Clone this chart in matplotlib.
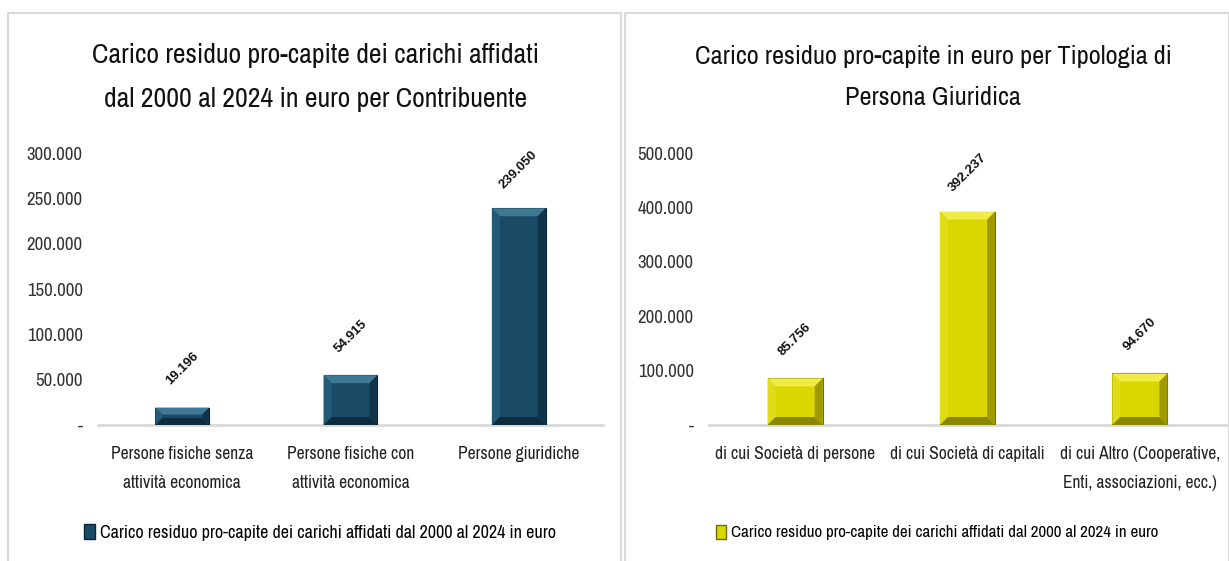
import matplotlib
matplotlib.use("Agg")
import matplotlib.pyplot as plt
from matplotlib.patches import Rectangle, Patch, Polygon
from matplotlib.ticker import FuncFormatter

# dati
cat_contribuente = ["Persone fisiche senza\nattività economica",
                    "Persone fisiche con\nattività economica",
                    "Persone giuridiche"]
val_contribuente = [19196, 54915, 239050]

cat_giuridica = ["di cui Società di persone",
                 "di cui Società di capitali",
                 "di cui Altro (Cooperative,\nEnti, associazioni, ecc.)"]
val_giuridica = [85756, 392237, 94670]

titolo_sx = "Carico residuo pro-capite dei carichi affidati\ndal 2000 al 2024 in euro per Contribuente"
titolo_dx = "Carico residuo pro-capite in euro per Tipologia di\nPersona Giuridica"
serie = "Carico residuo pro-capite dei carichi affidati dal 2000 al 2024 in euro"

FONT = ["Archivo Narrow", "Liberation Sans Narrow", "DejaVu Sans"]
plt.rcParams["font.family"] = FONT

W, H = 1229, 561
fig = plt.figure(figsize=(W / 100, H / 100), dpi=100)

# cornici dei due pannelli
for x0, x1 in [(8, 621), (625, 1229)]:
    fig.patches.append(Rectangle((x0 / W, -0.01), (x1 - x0) / W, (H - 13) / H + 0.01,
                                 transform=fig.transFigure, fill=False,
                                 edgecolor="#d9d9d9", linewidth=1.5))


def it_fmt(v, pos=None):
    if v == 0:
        return "-"
    return f"{v:,.0f}".replace(",", ".")


def smussa(ax, bars, col_top, col_left, col_right, col_bot):
    # effetto "bevel" stile Excel: trapezi sui bordi di ogni barra (in pixel)
    inv = ax.transData.inverted()
    for b in bars:
        (x0, y0), (x1, y1) = ax.transData.transform([(b.get_x(), 0),
                                                     (b.get_x() + b.get_width(), b.get_height())])
        d = min(8, (y1 - y0) / 2.5)
        inner = [(x0 + d, y0 + d), (x1 - d, y0 + d), (x1 - d, y1 - d), (x0 + d, y1 - d)]
        facce = [
            ([(x0, y1), (x1, y1), inner[2], inner[3]], col_top),
            ([(x0, y0), (x0, y1), inner[3], inner[0]], col_left),
            ([(x1, y0), (x1, y1), inner[2], inner[1]], col_right),
            ([(x0, y0), (x1, y0), inner[1], inner[0]], col_bot),
        ]
        for pts, c in facce:
            ax.add_patch(Polygon(inv.transform(pts), closed=True, facecolor=c,
                                 edgecolor="none", zorder=3))


def pannello(rect, cats, vals, ymax, step, colori, titolo, tx, title_fs, leg_x, leg_fs):
    color, edge = colori[0], colori[-1]
    ax = fig.add_axes(rect)
    xs = range(len(cats))
    bars = ax.bar(xs, vals, width=0.32, color=color, edgecolor=edge, linewidth=0.8, zorder=2)
    ax.set_xlim(-0.5, len(cats) - 0.5)
    ax.set_ylim(0, ymax)
    ax.set_yticks(range(0, ymax + 1, step))
    ax.yaxis.set_major_formatter(FuncFormatter(it_fmt))
    ax.set_xticks(list(xs))
    ax.set_xticklabels(cats, fontsize=12.6, linespacing=2.0, color="#222222")
    ax.tick_params(axis="y", length=0, pad=11, labelsize=13.5, labelcolor="#333333")
    ax.tick_params(axis="x", length=0, pad=15)
    for s in ["top", "right", "left"]:
        ax.spines[s].set_visible(False)
    ax.spines["bottom"].set_color("#d9d9d9")
    ax.spines["bottom"].set_linewidth(2)
    ax.spines["bottom"].set_zorder(1)
    smussa(ax, bars, *colori[1:5])
    for x, v in zip(xs, vals):
        ax.annotate(it_fmt(v), (x, v), xytext=(0, 28), textcoords="offset points",
                    rotation=45, ha="center", va="center", fontsize=9.5,
                    fontweight="bold", family=["Liberation Sans", "DejaVu Sans"],
                    color="#111111")
    fig.text(tx / W, 1 - 77 / H, titolo, ha="center", va="center", fontsize=title_fs,
             linespacing=1.95, color="#111111")
    ax.legend(handles=[Patch(facecolor=color, edgecolor=edge, label=serie)],
              loc="center", bbox_to_anchor=(leg_x, -0.395), frameon=False,
              fontsize=leg_fs, handlelength=0.6, handleheight=0.9, handletextpad=0.3)
    return ax


bottom = (H - 425) / H
height = 272 / H
# colori: faccia, bordo alto, sinistro, destro, basso, contorno
pannello([98 / W, bottom, 505 / W, height], cat_contribuente, val_contribuente,
         300000, 50000,
         ["#1a4b66", "#3f7894", "#235a77", "#0f3347", "#0d2d3f", "#0b2433"],
         titolo_sx, 316, 20, 0.44, 13)
pannello([709 / W, bottom, 517 / W, height], cat_giuridica, val_giuridica,
         500000, 100000,
         ["#d9d600", "#f0ec45", "#e0dc1a", "#9e9a00", "#8a8600", "#6f6c00"],
         titolo_dx, 933, 19, 0.441, 12.2)

fig.savefig("out.png", dpi=100)
